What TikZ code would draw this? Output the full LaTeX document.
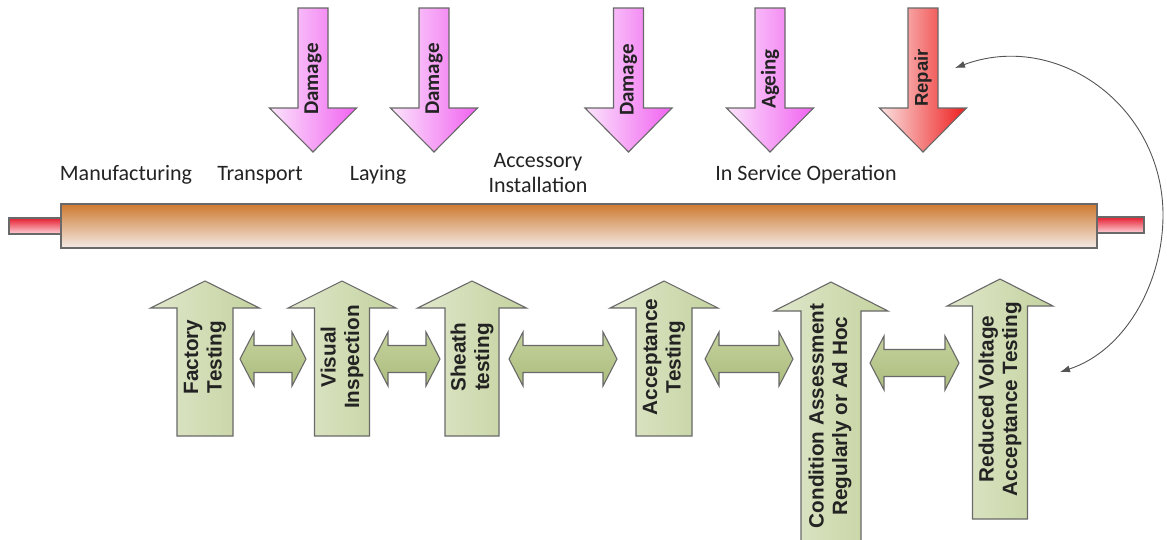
\documentclass[tikz,border=0pt]{standalone}
\usepackage{fontspec}
\setmainfont{Carlito}
\newfontfamily\arialfont{Liberation Sans}
\usetikzlibrary{arrows.meta}

\definecolor{edge}{RGB}{105,105,105}
\definecolor{ink}{RGB}{35,35,35}
\definecolor{cableTop}{RGB}{206,122,48}
\definecolor{cableBot}{RGB}{243,234,230}
\definecolor{coreTop}{RGB}{228,30,48}
\definecolor{coreBot}{RGB}{255,212,218}
\definecolor{pinkL}{RGB}{251,228,251}
\definecolor{pinkR}{RGB}{241,98,241}
\definecolor{redL}{RGB}{251,226,226}
\definecolor{redR}{RGB}{238,28,28}
\definecolor{greenL}{RGB}{223,231,203}
\definecolor{greenR}{RGB}{196,210,158}
\definecolor{twoTop}{RGB}{196,210,156}
\definecolor{twoBot}{RGB}{172,189,126}

% downward event arrow: centre x, style
\newcommand{\DownArr}[2]{%
  \path[#2] ({#1-15},8) -- ({#1+15},8) -- ({#1+15},108) -- ({#1+43.5},108)
    -- (#1,152) -- ({#1-43.5},108) -- ({#1-15},108) -- cycle;}
% upward test arrow: centre x, tip y, head base y, bottom y, half shaft, half head
\newcommand{\UpArr}[6]{%
  \path[testarrow] (#1,#2) -- ({#1+#6},#3) -- ({#1+#5},#3) -- ({#1+#5},#4)
    -- ({#1-#5},#4) -- ({#1-#5},#3) -- ({#1-#6},#3) -- cycle;}
% horizontal two-way arrow: left tip x, right tip x, centre y
\newcommand{\TwoWay}[3]{%
  \path[twoway] (#1,#3) -- ({#1+14},{#3-27}) -- ({#1+14},{#3-13.5})
    -- ({#2-14},{#3-13.5}) -- ({#2-14},{#3-27}) -- (#2,#3)
    -- ({#2-14},{#3+27}) -- ({#2-14},{#3+13.5}) -- ({#1+14},{#3+13.5})
    -- ({#1+14},{#3+27}) -- cycle;}

\begin{document}
\begin{tikzpicture}[x=1pt,y=-1pt,
  outline/.style={draw=edge,line width=1.1pt,line join=miter},
  damage/.style={outline,left color=pinkL,right color=pinkR},
  repair/.style={outline,left color=redL,right color=redR},
  testarrow/.style={outline,left color=greenL,right color=greenR},
  twoway/.style={outline,top color=twoTop,bottom color=twoBot},
  stage/.style={font=\fontsize{22}{25}\selectfont,text=ink,align=center,inner sep=0pt},
  eventtag/.style={rotate=90,font=\bfseries\fontsize{21}{24}\selectfont,text=ink,inner sep=0pt},
  repairtag/.style={rotate=90,font=\arialfont\bfseries\fontsize{18.5}{22}\selectfont,text=ink,inner sep=0pt},
  testtag/.style={rotate=90,font=\arialfont\bfseries\fontsize{20.7}{23.5}\selectfont,text=ink,align=center,inner sep=0pt},
  core/.style={outline,rectangle,inner sep=0pt,minimum height=16pt,top color=coreTop,bottom color=coreBot},
  sheath/.style={outline,rectangle,inner sep=0pt,minimum height=44pt,top color=cableTop,bottom color=cableBot},
  loopline/.style={draw=edge!80!black,line width=0.9pt,
    {Latex[length=10pt,width=7pt]}-{Latex[length=10pt,width=7pt]}}
]
\useasboundingbox (0,0) rectangle (1167,539);
\clip (0,0) rectangle (1167,539);

% cable: conductor ends and outer sheath
\node[core,minimum width=52pt] (coreL) at (35,226) {};
\node[core,minimum width=47pt] (coreR) at (1120.5,225) {};
\node[sheath,minimum width=1036pt] (cable) at (579,226) {};

% life-cycle stages above the cable
\node[stage,anchor=base] (manuf) at (126,180) {Manufacturing};
\node[stage,anchor=base] (transp) at (260,180) {Transport};
\node[stage,anchor=base] (laying) at (378,180) {Laying};
\node[stage] (access) at (538,173.5) {Accessory\\Installation};
\node[stage,anchor=base] (service) at (806,180) {In Service Operation};

% events acting on the cable
\DownArr{313}{damage}
\DownArr{434}{damage}
\DownArr{628.5}{damage}
\DownArr{770}{damage}
\DownArr{923}{repair}
\node[eventtag] (dmg1) at (313,79) {Damage};
\node[eventtag] (dmg2) at (434,79) {Damage};
\node[eventtag] (dmg3) at (628.5,80) {Damage};
\node[eventtag] (ageing) at (770,79) {Ageing};
\node[repairtag] (repairtxt) at (923,78) {Repair};

% tests carried out along the life cycle
\UpArr{205}{281}{308}{436}{28}{54.5}
\UpArr{342}{281}{308}{436}{27.5}{54}
\UpArr{472}{281}{308}{436}{27}{54.5}
\UpArr{664}{281}{308}{436}{28}{54}
\UpArr{831}{282}{311}{552}{30}{57}
\UpArr{1000}{279}{306}{519}{27.5}{53}
\node[testtag] (factory) at (205,357) {Factory\\Testing};
\node[testtag] (visual) at (342,357) {Visual\\Inspection};
\node[testtag] (sheathtest) at (472,357) {Sheath\\testing};
\node[testtag] (accept) at (664,357) {Acceptance\\Testing};
\node[testtag] (condition) at (830,416) {Condition Assessment\\Regularly or Ad Hoc};
\node[testtag] (reduced) at (1000,399) {Reduced Voltage\\Acceptance Testing};

% links between consecutive tests
\TwoWay{240}{306}{359}
\TwoWay{374}{440}{359}
\TwoWay{509}{617}{359}
\TwoWay{705}{793}{359}
\TwoWay{870}{959}{363}

% repair loop back to reduced-voltage testing
\coordinate (repairend) at (955,68);
\coordinate (retestend) at (1060,372);
\draw[loopline] (repairend) .. controls (1057,30) and (1163,106) .. (1163,215)
  .. controls (1163,283) and (1125,351) .. (retestend);
\end{tikzpicture}
\end{document}
